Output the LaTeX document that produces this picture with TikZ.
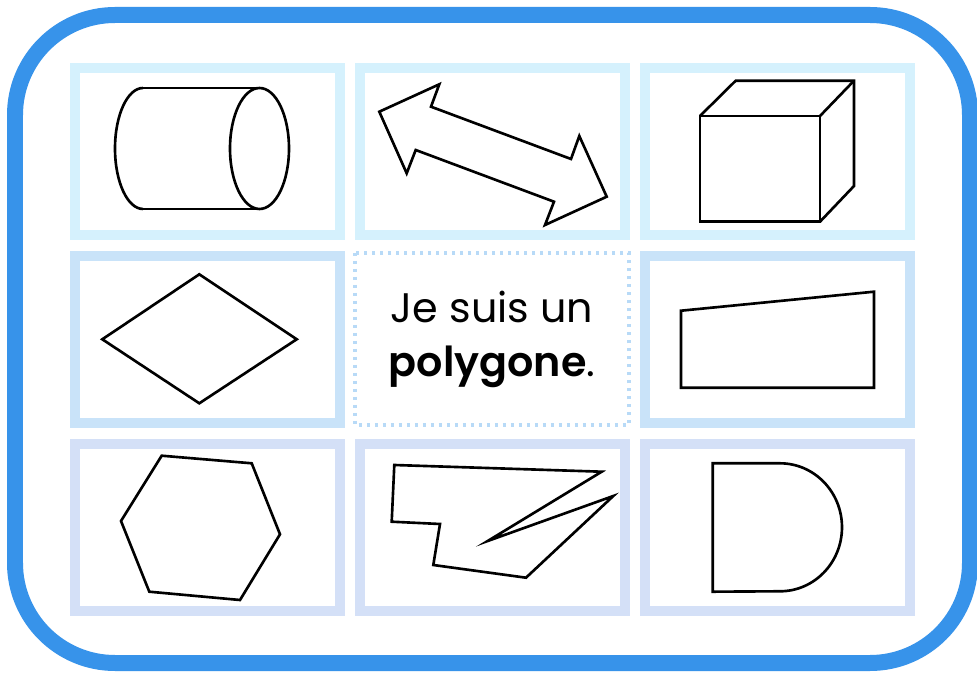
\documentclass[tikz,border=0pt]{standalone}
\usepackage{fontspec}
\setmainfont{Poppins}[BoldFont={Poppins SemiBold}]
\usetikzlibrary{positioning}

\definecolor{bordure}{HTML}{3793EA}
\definecolor{bleuA}{HTML}{D5F1FD}
\definecolor{bleuB}{HTML}{C9E3F9}
\definecolor{bleuC}{HTML}{D4E0F7}
\definecolor{pointille}{HTML}{B8DAF7}

\begin{document}
\begin{tikzpicture}[x=0.02cm, y=-0.02cm,
  rang1/.style={draw=bleuA, line width=0.21cm},
  rang2/.style={draw=bleuB, line width=0.21cm},
  rang3/.style={draw=bleuC, line width=0.21cm},
  forme/.style={draw=black, line width=1.5pt},
  texte/.style={font=\fontsize{23.5}{28}\selectfont, inner sep=0pt, anchor=base}]
\useasboundingbox[fill=white] (0,0) rectangle (977,675);
% cadre exterieur
\draw[bordure, line width=0.32cm, rounded corners=2cm] (15,15) rectangle (970,663);
% les cases
\draw[rang1] (75,68) rectangle (340,235);
\draw[rang1] (360,68) rectangle (625,235);
\draw[rang1] (645,68) rectangle (910,235);
\draw[rang2] (75,256) rectangle (340,423);
\draw[rang2] (645,256) rectangle (910,423);
\draw[rang3] (75,444) rectangle (340,611);
\draw[rang3] (360,444) rectangle (625,611);
\draw[rang3] (645,444) rectangle (910,611);
\draw[pointille, line width=0.07cm, dash pattern=on 0.07cm off 0.09cm] (355,253) rectangle (629,425);
% cylindre
\draw[forme] (143,88) -- (259,88);
\draw[forme] (143,209) -- (259,209);
\draw[forme] (143,88) arc[start angle=90, end angle=270, x radius=0.56cm, y radius=1.21cm];
\draw[forme] (259.5,148.5) ellipse[x radius=0.59cm, y radius=1.21cm];
% double fleche
\draw[forme] (379.3,111.7) -- (439.3,84.3) -- (431,106.7) -- (571,159) -- (579.3,136) -- (606.7,196.7)
  -- (545,225) -- (554,201.7) -- (415.7,150) -- (406.7,173.3) -- cycle;
% cube
\draw[forme] (700,116) rectangle (820,221.7);
\draw[forme] (700,116) -- (735.7,80.7) -- (854,80.7) -- (854,186) -- (820,221.7);
\draw[forme] (820,116) -- (854,80.7);
% losange
\draw[forme] (199.3,274.3) -- (296.7,339.3) -- (199.3,403.3) -- (102.3,339.3) -- cycle;
% texte
\node[texte] (ligne1) at (492,323) {Je suis un};
\node[texte] (ligne2) at (492,377) {{\bfseries polygone}.};
% trapeze
\draw[forme] (681,310.7) -- (874,291.7) -- (874,387.7) -- (681,387.7) -- cycle;
% hexagone
\draw[forme] (161.7,455.7) -- (251.7,463.3) -- (280,534.3) -- (240,600) -- (149.3,591.7) -- (121,521) -- cycle;
% polygone concave
\draw[forme] (394.3,465) -- (601.7,471.7) -- (487.7,541) -- (613.3,496) -- (526,577.7) -- (433.3,565)
  -- (440,524) -- (391.7,521.7) -- cycle;
% demi-disque
\draw[forme] (712.7,463.3) -- (780,463.3) arc[start angle=90, end angle=-90, x radius=1.24cm, y radius=1.28cm]
  -- (712.7,591.7) -- cycle;
\end{tikzpicture}
\end{document}
